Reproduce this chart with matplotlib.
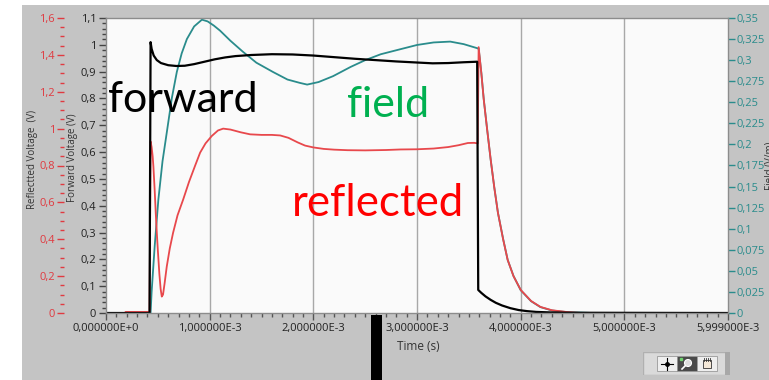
import numpy as np
import matplotlib
matplotlib.use('Agg')
import matplotlib.pyplot as plt
from matplotlib.patches import Rectangle, Circle
from matplotlib.ticker import FuncFormatter, MultipleLocator

# time axis in ms, converted to seconds when plotting
t_fwd = [0, 0.42, 0.43, 0.44, 0.46, 0.49, 0.53, 0.6, 0.68, 0.76, 0.85, 0.95, 1.05,
         1.15, 1.25, 1.4, 1.6, 1.8, 2.0, 2.2, 2.4, 2.6, 2.8, 3.0, 3.15, 3.3, 3.45,
         3.58, 3.59, 3.62, 3.66, 3.71, 3.76, 3.82, 3.9, 3.98, 4.06, 4.15, 4.3, 4.5, 6.0]
v_fwd = [0, 0, 1.01, 0.985, 0.96, 0.943, 0.932, 0.924, 0.921, 0.922, 0.928, 0.937,
         0.946, 0.953, 0.958, 0.962, 0.965, 0.964, 0.96, 0.954, 0.948, 0.943, 0.938,
         0.934, 0.931, 0.932, 0.935, 0.937, 0.086, 0.075, 0.062, 0.049, 0.038, 0.028,
         0.018, 0.011, 0.007, 0.004, 0.002, 0.001, 0]

t_ref = [0, 0.18, 0.19, 0.42, 0.43, 0.44, 0.45, 0.457, 0.47, 0.48, 0.49, 0.5, 0.515,
         0.527, 0.538, 0.55, 0.565, 0.586, 0.615, 0.647, 0.69, 0.744, 0.8, 0.86, 0.908,
         0.96, 1.02, 1.08, 1.13, 1.2, 1.3, 1.39, 1.5, 1.6, 1.68, 1.76, 1.85, 1.92, 2.0,
         2.1, 2.2, 2.33, 2.5, 2.7, 2.84, 3.0, 3.16, 3.3, 3.4, 3.49, 3.55, 3.585, 3.594,
         3.62, 3.643, 3.675, 3.71, 3.745, 3.78, 3.83, 3.874, 3.93, 4.0, 4.1, 4.19, 4.3,
         4.45, 4.58, 6.0]
v_ref = [0, 0, 0.006, 0.006, 0.93, 0.9, 0.85, 0.796, 0.66, 0.54, 0.435, 0.34, 0.21,
         0.13, 0.089, 0.1, 0.16, 0.252, 0.35, 0.435, 0.53, 0.615, 0.71, 0.8, 0.87, 0.92,
         0.96, 0.99, 1.0, 0.995, 0.98, 0.969, 0.966, 0.966, 0.963, 0.95, 0.925, 0.908,
         0.898, 0.89, 0.886, 0.883, 0.882, 0.884, 0.887, 0.888, 0.892, 0.9, 0.91, 0.922,
         0.923, 0.92, 1.442, 1.3, 1.159, 1.0, 0.833, 0.68, 0.544, 0.4, 0.288, 0.2, 0.125,
         0.065, 0.033, 0.015, 0.005, 0, 0]

t_fld = [0, 0.43, 0.44, 0.47, 0.505, 0.545, 0.586, 0.635, 0.683, 0.73, 0.78, 0.85,
         0.925, 0.98, 1.04, 1.1, 1.2, 1.32, 1.45, 1.61, 1.75, 1.87, 1.94, 2.05, 2.19,
         2.36, 2.5, 2.65, 2.84, 3.0, 3.16, 3.32, 3.45, 3.585, 3.594, 3.62, 3.643, 3.675,
         3.71, 3.745, 3.78, 3.83, 3.874, 3.93, 4.0, 4.1, 4.19, 4.3, 4.45, 4.7, 6.0]
v_fld = [0, 0, 0.025, 0.08, 0.1345, 0.18, 0.214, 0.255, 0.286, 0.308, 0.325, 0.34,
         0.348, 0.346, 0.341, 0.335, 0.323, 0.31, 0.297, 0.286, 0.277, 0.273, 0.271,
         0.274, 0.281, 0.292, 0.3, 0.307, 0.313, 0.318, 0.321, 0.322, 0.319, 0.314,
         0.314, 0.285, 0.254, 0.219, 0.182, 0.149, 0.119, 0.088, 0.063, 0.044, 0.027,
         0.014, 0.007, 0.003, 0.001, 0, 0]

x_major = [0, 1e-3, 2e-3, 3e-3, 4e-3, 5e-3, 5.999e-3]

W, H = 769, 380
plt.rcParams['font.family'] = ['Open Sans', 'DejaVu Sans']


def px(x0, y0, w, h):
    # pixel box (from top-left) -> figure fraction
    return [x0 / W, 1 - (y0 + h) / H, w / W, h / H]


def comma(v, pos):
    return ('%g' % round(v, 4)).replace('.', ',')


def sci(v, pos):
    if v == 0:
        return '0,000000E+0'
    e = int(np.floor(np.log10(abs(v))))
    return ('%.6fE%+d' % (v / 10 ** e, e)).replace('.', ',')


fig = plt.figure(figsize=(W / 100, H / 100), dpi=100)
fig.patches.append(Rectangle((22 / W, 0), 1, (H - 5) / H, transform=fig.transFigure,
                             facecolor='#c4c4c4', edgecolor='none', zorder=-10))

ax = fig.add_axes(px(106, 18, 622, 295))
ax_ref = ax.twinx()
ax_fld = ax.twinx()

# stacking: field at the back (with background), then reflected, forward on top
ax_fld.set_zorder(1)
ax_ref.set_zorder(2)
ax.set_zorder(3)
ax.patch.set_visible(False)
ax_fld.patch.set_visible(True)
ax_fld.set_facecolor('#fafafa')

ts = lambda t: np.array(t) * 1e-3
ax_fld.plot(ts(t_fld), v_fld, color='#2a8c8c', lw=1.3)
ax_ref.plot(ts(t_ref), v_ref, color='#e8484c', lw=1.3)
ax.plot(ts(t_fwd), v_fwd, color='black', lw=1.6)

for xv in x_major[1:-1]:
    ax_fld.axvline(xv, color='#a8a8a8', lw=1, zorder=0)

ax.set_xlim(0, 5.999e-3)
ax.set_ylim(0, 1.1)
ax_ref.set_ylim(0, 1.6)
ax_fld.set_ylim(0, 0.35)

for a in (ax, ax_ref, ax_fld):
    for s in a.spines.values():
        s.set_visible(False)
for s in ax.spines.values():
    s.set_visible(True)
    s.set_color('#8c8c8c')
    s.set_linewidth(1)

# x axis
ax.set_xticks(x_major)
ax.xaxis.set_major_formatter(FuncFormatter(sci))
ax.xaxis.set_minor_locator(MultipleLocator(1e-4))
ax.tick_params(axis='x', which='major', length=5, width=1, color='#555555',
               labelsize=8, labelcolor='#222222', pad=2)
ax.tick_params(axis='x', which='minor', length=3, width=1, color='#555555')

# forward voltage axis
ax.yaxis.set_major_locator(MultipleLocator(0.1))
ax.yaxis.set_minor_locator(MultipleLocator(0.02))
ax.yaxis.set_major_formatter(FuncFormatter(comma))
ax.tick_params(axis='y', which='major', length=5, width=1, color='#444444',
               labelsize=8, labelcolor='#222222', pad=2)
ax.tick_params(axis='y', which='minor', length=3, width=1, color='#444444')

# reflected voltage axis, further out on the left
ax_ref.yaxis.set_ticks_position('left')
ax_ref.yaxis.set_label_position('left')
ax_ref.spines['left'].set_position(('axes', -42 / 622))
ax_ref.yaxis.set_major_locator(MultipleLocator(0.2))
ax_ref.yaxis.set_minor_locator(MultipleLocator(0.05))
ax_ref.yaxis.set_major_formatter(FuncFormatter(comma))
ax_ref.tick_params(axis='y', which='major', length=5, width=1, color='#e03a40',
                   labelsize=8, labelcolor='#e03a40', pad=1.5)
ax_ref.tick_params(axis='y', which='minor', length=3, width=1, color='#e03a40')

# field axis on the right
ax_fld.yaxis.set_major_locator(MultipleLocator(0.025))
ax_fld.yaxis.set_major_formatter(FuncFormatter(comma))
ax_fld.tick_params(axis='y', which='major', length=5, width=1, color='#2a8c8c',
                   labelsize=8, labelcolor='#2a8c8c', pad=1)

fig.text(418 / W, 1 - 347 / H, 'Time (s)', ha='center', va='center', fontsize=8.5,
         color='#333333')
fig.text(32 / W, 1 - 159 / H, 'Reflectted Voltage  (V)', rotation=90, ha='center',
         va='center', fontsize=7, color='#333333')
fig.text(73 / W, 1 - 158 / H, 'Forward Voltage (V)', rotation=90, ha='center',
         va='center', fontsize=7, color='#333333')
fig.text(765 / W, 1 - 166 / H, 'Field (V/m)', rotation=90, ha='left',
         va='center', fontsize=7, color='#333333')

# annotations
fig.text(108 / W, 1 - 112 / H, 'forward', fontsize=31, family='Lato', color='black',
         va='baseline')
fig.text(347 / W, 1 - 117 / H, 'field', fontsize=31, family='Lato', color='#00b050',
         va='baseline')
fig.text(292 / W, 1 - 216 / H, 'reflected', fontsize=31.5, family='Lato', color='#ff0000',
         va='baseline')

# black bar at the bottom
fig.patches.append(Rectangle((371 / W, 0), 11 / W, 65 / H, transform=fig.transFigure,
                             facecolor='black', edgecolor='none', zorder=5))

# graph palette buttons
tb = fig.add_axes(px(643, 352, 87, 23))
tb.set_xlim(0, 87)
tb.set_ylim(23, 0)
tb.axis('off')
tb.add_patch(Rectangle((0, 0), 87, 23, facecolor='#dadada', edgecolor='#b0b0b0'))
tb.add_patch(Rectangle((82, 0), 5, 23, facecolor='#a8a8a8', edgecolor='none'))
tb.add_patch(Rectangle((14, 4), 20, 15, facecolor='#eeeeee', edgecolor='#999999', lw=0.6))
tb.add_patch(Rectangle((34, 4), 20, 15, facecolor='#4a4a4a', edgecolor='#999999', lw=0.6))
tb.add_patch(Rectangle((54, 4), 20, 15, facecolor='#eeeeee', edgecolor='#999999', lw=0.6))
tb.plot([18, 30], [12, 12], color='black', lw=0.8)
tb.plot([24, 24], [6, 18], color='black', lw=0.8)
tb.plot([24], [12], 'o', color='black', ms=2.5)
tb.add_patch(Circle((45, 11), 3.5, facecolor='#dddddd', edgecolor='white', lw=0.8))
tb.plot([42, 39], [14, 17], color='white', lw=1.2)
tb.plot([38], [7], 's', color='#6fd06f', ms=2)
tb.add_patch(Rectangle((60, 8), 8, 8, facecolor='#f4e8d8', edgecolor='#333333', lw=0.6))
for k in range(4):
    tb.plot([60.5 + 2 * k, 60.5 + 2 * k], [6, 9], color='#333333', lw=0.6)

fig.savefig('out.png', dpi=100)
